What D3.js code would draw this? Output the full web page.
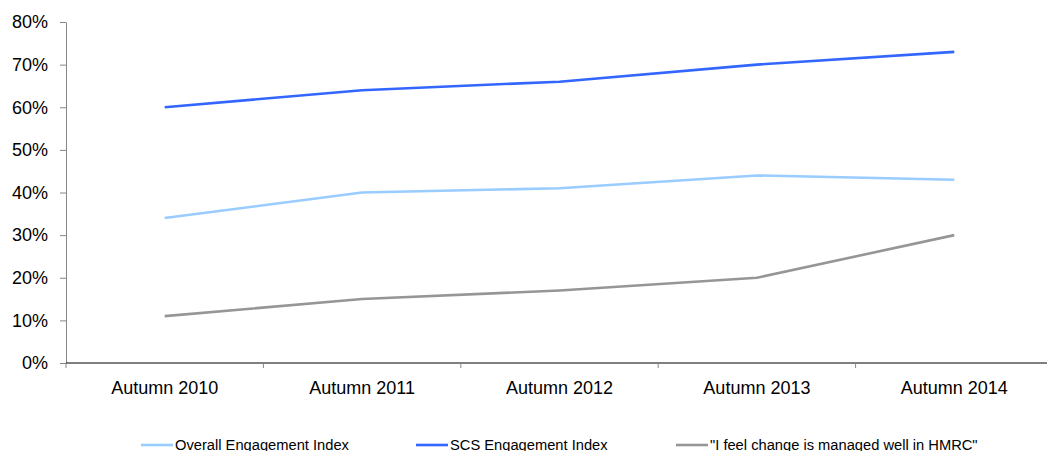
<!DOCTYPE html>
<html>
<head>
<meta charset="utf-8">
<script src="https://cdn.jsdelivr.net/npm/d3@7"></script>
<style>
  html, body { margin: 0; padding: 0; background: #fff; }
  svg { display: block; font-family: "Liberation Sans", Arial, sans-serif; }
</style>
</head>
<body>
<svg id="chart" width="1047" height="451"></svg>
<script>
// Survey waves
const categories = ["Autumn 2010", "Autumn 2011", "Autumn 2012", "Autumn 2013", "Autumn 2014"];

// Percentages per wave
const overallEngagement = [34, 40, 41, 44, 43];
const scsEngagement = [60, 64, 66, 70, 73];
const changeManagedWell = [11, 15, 17, 20, 30];

const seriesNames = ["Overall Engagement Index", "SCS Engagement Index", "\"I feel change is managed well in HMRC\""];
const yTicks = [0, 10, 20, 30, 40, 50, 60, 70, 80];

const series = [
  { name: seriesNames[0], values: overallEngagement, color: "#99ccff" },
  { name: seriesNames[1], values: scsEngagement, color: "#3366ff" },
  { name: seriesNames[2], values: changeManagedWell, color: "#969696" }
];

const svg = d3.select("#chart");
const plotLeft = 66, plotRight = 1053, plotTop = 22, plotBottom = 363;

const x = d3.scaleBand().domain(categories).range([plotLeft, plotRight]);
const y = d3.scaleLinear().domain([0, 80]).range([plotBottom, plotTop]);

// Y axis
const yAxis = svg.append("g")
  .attr("transform", `translate(${plotLeft},0)`)
  .call(d3.axisLeft(y).tickValues(yTicks).tickFormat(d => d + "%").tickSize(6).tickSizeOuter(0));
yAxis.select(".domain").attr("stroke", "#868686").attr("stroke-width", 1);
yAxis.selectAll(".tick line").attr("stroke", "#868686");
yAxis.selectAll(".tick text")
  .attr("x", -18)
  .attr("font-size", 18)
  .attr("font-family", "Liberation Sans, Arial, sans-serif")
  .attr("fill", "#000");

// X axis with ticks on band boundaries
const xAxisG = svg.append("g").attr("transform", `translate(0,${plotBottom})`);
xAxisG.append("line")
  .attr("x1", plotLeft).attr("x2", plotRight)
  .attr("stroke", "#000").attr("stroke-width", 1);
xAxisG.selectAll("line.bt")
  .data(categories)
  .join("line")
  .attr("class", "bt")
  .attr("x1", d => x(d)).attr("x2", d => x(d))
  .attr("y1", 0).attr("y2", 5)
  .attr("stroke", "#868686");
xAxisG.selectAll("text")
  .data(categories)
  .join("text")
  .attr("x", d => x(d) + x.bandwidth() / 2)
  .attr("y", 31)
  .attr("text-anchor", "middle")
  .attr("font-size", 18)
  .attr("fill", "#000")
  .text(d => d);

// Lines
const line = d3.line()
  .x((d, i) => x(categories[i]) + x.bandwidth() / 2)
  .y(d => y(d));

svg.selectAll("path.series")
  .data(series)
  .join("path")
  .attr("class", "series")
  .attr("d", d => line(d.values))
  .attr("fill", "none")
  .attr("stroke", d => d.color)
  .attr("stroke-width", 2.6);

// Legend
const legendX = [141, 416, 676];
const legend = svg.append("g").attr("transform", "translate(0,445)");
const items = legend.selectAll("g")
  .data(series)
  .join("g")
  .attr("transform", (d, i) => `translate(${legendX[i]},0)`);
items.append("line")
  .attr("x1", 0).attr("x2", 32)
  .attr("stroke", d => d.color)
  .attr("stroke-width", 2.6);
items.append("text")
  .attr("x", 34)
  .attr("y", 5)
  .attr("font-size", 14.7)
  .attr("fill", "#000")
  .text(d => d.name);
</script>
</body>
</html>
